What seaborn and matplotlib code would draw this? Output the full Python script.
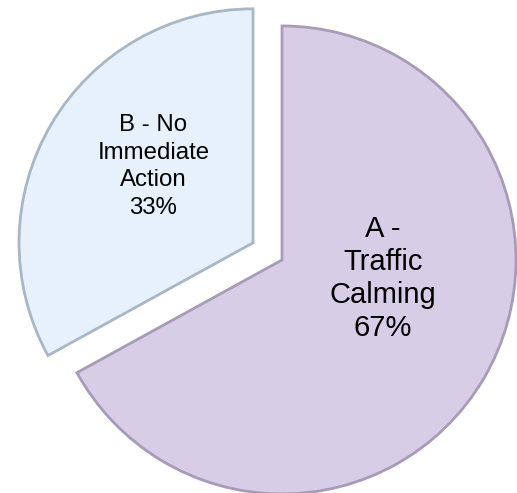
import matplotlib
matplotlib.use("Agg")
import matplotlib.pyplot as plt
import seaborn as sns

categories = ["A -\nTraffic\nCalming", "B - No\nImmediate\nAction"]
shares = [67, 33]
slice_colors = ["#d8cde6", "#e6f1fb"]
edge_colors = ["#a79bb8", "#a9b6c3"]

sns.set_theme(style="white")
plt.rcParams["font.family"] = ["Liberation Sans", "DejaVu Sans"]

fig = plt.figure(figsize=(5.17, 4.93), dpi=100)
ax = fig.add_axes([0, 0, 1, 1])

wedges, _ = ax.pie(
    shares,
    startangle=90,
    counterclock=False,
    explode=[0, 0.144],
    radius=1,
    colors=slice_colors,
    wedgeprops={"linewidth": 2.0},
)
for w, ec in zip(wedges, edge_colors):
    w.set_edgecolor(ec)

# label texts, placed like the original data labels
label_pos = [(0.43, -0.08), (-0.55, 0.40)]
sizes = [21, 17.3]
spacing = [1.22, 1.32]
for (lx, ly), cat, val, fs, ls in zip(label_pos, categories, shares, sizes, spacing):
    ax.text(lx, ly, f"{cat}\n{val}%", ha="center", va="center",
            fontsize=fs, color="black", linespacing=ls)

ax.set_xlim(-1.205, 1.004)
ax.set_ylim(-0.996, 1.111)
ax.set_aspect("equal")
ax.axis("off")

fig.savefig("out.png", dpi=100)
plt.close(fig)
